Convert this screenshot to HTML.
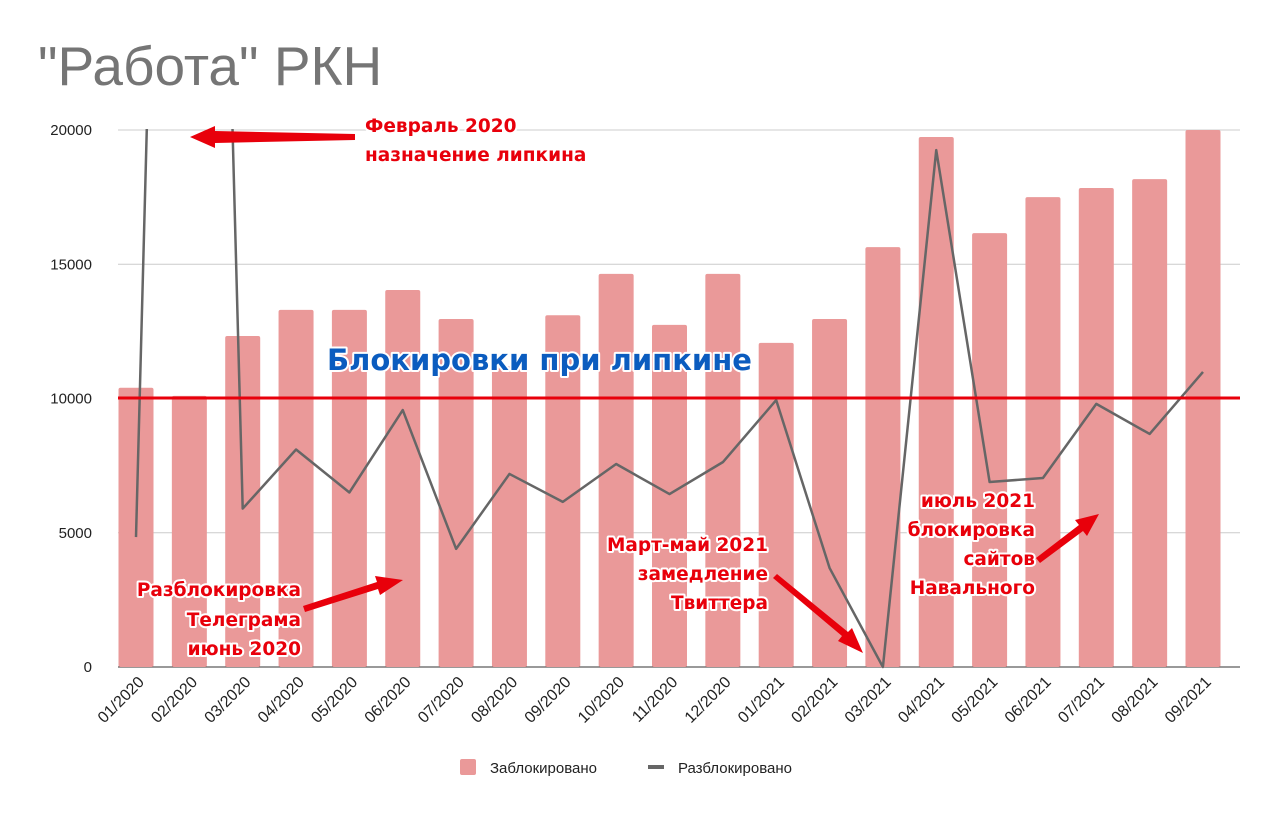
<!DOCTYPE html>
<html><head><meta charset="utf-8">
<style>
html,body{margin:0;padding:0;background:#fff;width:1280px;height:813px;overflow:hidden}
svg{display:block;font-family:"Liberation Sans","Noto Sans CJK SC",sans-serif}
.ann{font-family:"DejaVu Sans","Liberation Sans",sans-serif;font-weight:bold;paint-order:stroke;stroke:#fff;stroke-width:4px;stroke-linejoin:round}
</style></head><body>
<svg id="chart" width="1280" height="813">
<text x="38" y="85" font-size="55" fill="#757575">"Работа" РКН</text>
<g id="grid"></g>
<defs><clipPath id="plotClip"><rect x="100" y="129" width="1160" height="540"/></clipPath></defs>
<g id="bars"></g>
<g id="line" clip-path="url(#plotClip)"></g>
<line x1="118" x2="1240" y1="398" y2="398" stroke="#e8000b" stroke-width="3"/>
<g id="xlabels"></g>
<g>
<text class="ann" x="327" y="370" font-size="29" fill="#0b5cbf">Блокировки при липкине</text>
<text class="ann" fill="#e8000b" font-size="18.5"><tspan x="365" y="132">Февраль 2020</tspan><tspan x="365" y="161">назначение липкина</tspan></text>
<text class="ann" fill="#e8000b" font-size="18.5" text-anchor="end"><tspan x="301" y="596">Разблокировка</tspan><tspan x="301" y="626">Телеграма</tspan><tspan x="301" y="655">июнь 2020</tspan></text>
<text class="ann" fill="#e8000b" font-size="18.5" text-anchor="end"><tspan x="768" y="551">Март-май 2021</tspan><tspan x="768" y="580">замедление</tspan><tspan x="768" y="609">Твиттера</tspan></text>
<text class="ann" fill="#e8000b" font-size="18.5" text-anchor="end"><tspan x="1035" y="507">июль 2021</tspan><tspan x="1035" y="536">блокировка</tspan><tspan x="1035" y="565">сайтов</tspan><tspan x="1035" y="594">Навального</tspan></text>
<g fill="#e8000b">
<polygon points="355,134 215,131 215,126 190,137 215,148 215,143 355,140"/>
<polygon points="305,612 378,589 380,595 403,580 375,576 377,582 303,606"/>
<polygon points="773,578 842,636 838,641 863,653 852,628 848,632 777,574"/>
<polygon points="1040,563 1083,531 1087,536 1099,514 1075,520 1079,525 1036,558"/>
</g>
</g>
<g>
<rect x="460" y="759" width="16" height="16" rx="2" fill="#ea9999"/>
<text x="490" y="773" font-size="15" fill="#222">Заблокировано</text>
<rect x="648" y="765" width="16" height="4" fill="#666"/>
<text x="678" y="773" font-size="15" fill="#222">Разблокировано</text>
</g>
</svg>
<script>
const categories=["01/2020","02/2020","03/2020","04/2020","05/2020","06/2020","07/2020","08/2020","09/2020","10/2020","11/2020","12/2020","01/2021","02/2021","03/2021","04/2021","05/2021","06/2021","07/2021","08/2021","09/2021"];
const blocked=[10400,10100,12330,13300,13300,14040,12960,11200,13100,14640,12740,14640,12070,12960,15640,19740,16160,17500,17840,18170,20000];
const unblocked=[4840,80000,5900,8100,6500,9570,4400,7190,6150,7560,6440,7630,9940,3690,0,19250,6890,7040,9800,8680,10990];
const yTicks=[0,5000,10000,15000,20000];
const NS="http://www.w3.org/2000/svg";
const x0=136,step=53.35,yBase=667,yTop=130,yMax=20000;
function xs(i){return x0+i*step;}
function ys(v){return yBase-(v/yMax)*(yBase-yTop);}
function mk(tag,attrs,parent){const e=document.createElementNS(NS,tag);for(const k in attrs)e.setAttribute(k,attrs[k]);parent.appendChild(e);return e;}
const grid=document.getElementById('grid');
yTicks.forEach(t=>{
  const l=mk('line',{x1:118,x2:1240,y1:ys(t),y2:ys(t),stroke:t===0?'#333':'#ccc','stroke-width':1},grid);
  
  
  const tx=mk('text',{x:92,y:ys(t)+5,'font-size':15,fill:'#222','text-anchor':'end'},grid);
  tx.textContent=t;
  
  
});
const bars=document.getElementById('bars');
blocked.forEach((v,i)=>{
  const r=mk('rect',{x:xs(i)-17.5,y:ys(v),width:35,height:yBase-ys(v),rx:2,fill:'#ea9999'},bars);
  
  
});
const lg=document.getElementById('line');
const p=mk('polyline',{points:unblocked.map((v,i)=>xs(i)+','+ys(v)).join(' '),fill:'none',stroke:'#666','stroke-width':2.5,'stroke-linejoin':'round'},lg);


const xl=document.getElementById('xlabels');
categories.forEach((c,i)=>{
  const t=mk('text',{x:xs(i)+9,y:683,'font-size':16,fill:'#222','text-anchor':'end',transform:'rotate(-45 '+(xs(i)+9)+' 683)'},xl);
  t.textContent=c;
  
  
});
</script>
</body></html>
